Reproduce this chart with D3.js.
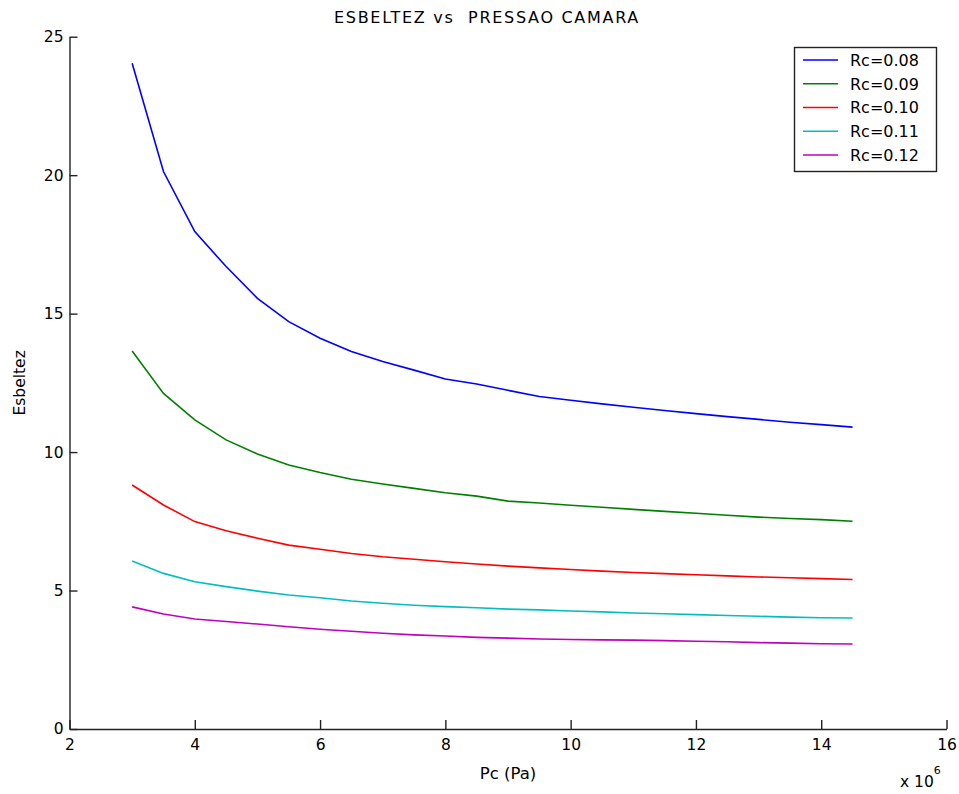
<!DOCTYPE html>
<html>
<head>
<meta charset="utf-8">
<script src="https://cdn.jsdelivr.net/npm/d3@7"></script>
<style>
  body { margin: 0; background: #fff; }
  text { font-family: "DejaVu Sans", "Liberation Sans", Arial, sans-serif; fill: #000; }
</style>
</head>
<body>
<svg id="chart" width="959" height="794"></svg>
<script>
// Chamber pressure (Pa, in units of 10^6)
const pressure = [3, 3.5, 4, 4.5, 5, 5.5, 6, 6.5, 7, 7.5, 8, 8.5, 9, 9.5, 10, 10.5, 11, 11.5, 12, 12.5, 13, 13.5, 14, 14.5];

// Slenderness (esbeltez) for each chamber radius Rc
const rc008 = [24.04, 20.13, 17.96, 16.70, 15.55, 14.71, 14.11, 13.63, 13.27, 12.96, 12.64, 12.46, 12.23, 12.01, 11.87, 11.74, 11.62, 11.50, 11.39, 11.28, 11.18, 11.08, 10.99, 10.90];
const rc009 = [13.65, 12.12, 11.16, 10.44, 9.93, 9.53, 9.26, 9.02, 8.85, 8.69, 8.53, 8.41, 8.23, 8.16, 8.08, 8.01, 7.93, 7.86, 7.79, 7.72, 7.65, 7.60, 7.56, 7.50];
const rc010 = [8.81, 8.09, 7.49, 7.16, 6.89, 6.64, 6.49, 6.34, 6.22, 6.13, 6.04, 5.96, 5.88, 5.82, 5.76, 5.70, 5.65, 5.61, 5.57, 5.53, 5.49, 5.46, 5.43, 5.40];
const rc011 = [6.07, 5.62, 5.32, 5.14, 4.98, 4.84, 4.74, 4.62, 4.54, 4.47, 4.42, 4.38, 4.33, 4.30, 4.26, 4.23, 4.19, 4.16, 4.13, 4.10, 4.07, 4.04, 4.02, 4.01];
const rc012 = [4.41, 4.15, 3.97, 3.88, 3.79, 3.69, 3.60, 3.53, 3.46, 3.40, 3.36, 3.31, 3.28, 3.25, 3.23, 3.22, 3.21, 3.19, 3.17, 3.15, 3.12, 3.10, 3.08, 3.07];

const seriesNames = ["Rc=0.08", "Rc=0.09", "Rc=0.10", "Rc=0.11", "Rc=0.12"];
const seriesColors = ["#0000ff", "#008000", "#ff0000", "#00bfbf", "#bf00bf"];
const seriesValues = [rc008, rc009, rc010, rc011, rc012];

const xTicks = [2, 4, 6, 8, 10, 12, 14, 16];
const yTicks = [0, 5, 10, 15, 20, 25];

const titleText = "ESBELTEZ vs  PRESSAO CAMARA";
const xLabel = "Pc (Pa)";
const yLabel = "Esbeltez";

const svg = d3.select("#chart");

const plot = { left: 69.5, right: 946.5, top: 36.7, bottom: 729 };

const x = d3.scaleLinear().domain([2, 16]).range([plot.left, plot.right]);
const y = d3.scaleLinear().domain([0, 25]).range([plot.bottom, plot.top]);

// Curves
const line = d3.line()
  .x(d => x(d[0]))
  .y(d => y(d[1]));

seriesValues.forEach((vals, i) => {
  svg.append("path")
    .datum(pressure.map((p, k) => [p, vals[k]]))
    .attr("fill", "none")
    .attr("stroke", seriesColors[i])
    .attr("stroke-width", 1.6)
    .attr("d", line);
});

// Axes (ticks pointing inward, no box)
const xAxis = svg.append("g")
  .attr("transform", `translate(0,${plot.bottom})`)
  .call(d3.axisBottom(x).tickValues(xTicks).tickFormat(d3.format("d"))
    .tickSizeInner(-9).tickSizeOuter(0).tickPadding(10));

const yAxis = svg.append("g")
  .attr("transform", `translate(${plot.left},0)`)
  .call(d3.axisLeft(y).tickValues(yTicks).tickFormat(d3.format("d"))
    .tickSizeInner(-8).tickSizeOuter(0).tickPadding(6));

[xAxis, yAxis].forEach(g => {
  g.select(".domain").attr("stroke", "#222").attr("stroke-width", 1.4);
  g.selectAll(".tick line").attr("stroke", "#222").attr("stroke-width", 1.4);
  g.selectAll(".tick text")
    .attr("font-family", "DejaVu Sans, Liberation Sans, Arial, sans-serif")
    .attr("font-size", 15.5)
    .attr("fill", "#111");
});

// Title and axis labels
svg.append("text")
  .attr("x", 487).attr("y", 23)
  .attr("text-anchor", "middle")
  .attr("font-size", 16)
  .attr("letter-spacing", 1.7)
  .style("white-space", "pre")
  .text(titleText);

svg.append("text")
  .attr("x", (plot.left + plot.right) / 2).attr("y", 779)
  .attr("text-anchor", "middle")
  .attr("font-size", 16.5)
  .text(xLabel);

svg.append("text")
  .attr("transform", `translate(25,${(plot.top + plot.bottom) / 2}) rotate(-90)`)
  .attr("text-anchor", "middle")
  .attr("font-size", 15.5)
  .text(yLabel);

// Exponent multiplier for the x axis
const mult = svg.append("text")
  .attr("x", 900).attr("y", 787)
  .attr("font-size", 15.5);
mult.append("tspan").text("x 10");
mult.append("tspan").attr("dy", -13).attr("font-size", 11).text("6");

// Legend
const legend = svg.append("g");
legend.append("rect")
  .attr("x", 794.5).attr("y", 47.5)
  .attr("width", 142).attr("height", 124)
  .attr("fill", "#fff")
  .attr("stroke", "#222")
  .attr("stroke-width", 1.4);

const legendY = d3.scaleLinear().domain([0, 4]).range([60, 155]);
seriesNames.forEach((name, i) => {
  const ly = legendY(i);
  legend.append("line")
    .attr("x1", 803).attr("x2", 838)
    .attr("y1", ly).attr("y2", ly)
    .attr("stroke", seriesColors[i])
    .attr("stroke-width", 1.6);
  legend.append("text")
    .attr("x", 850).attr("y", ly)
    .attr("dy", "0.36em")
    .attr("font-size", 16)
    .text(name);
});
</script>
</body>
</html>
